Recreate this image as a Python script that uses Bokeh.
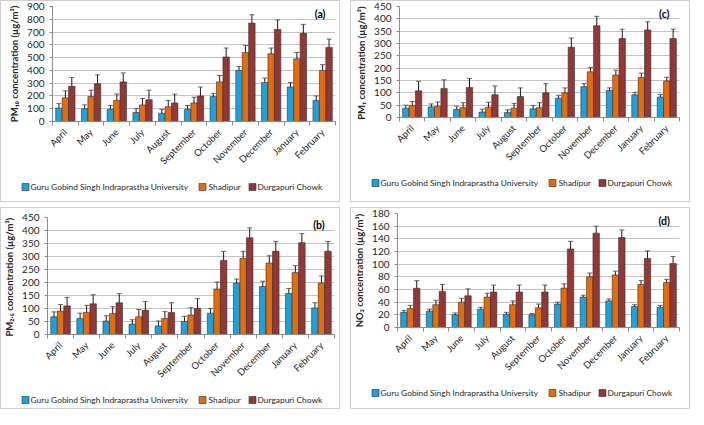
import numpy as np
from bokeh.plotting import figure
from bokeh.models import (ColumnDataSource, Range1d, FixedTicker, Whisker, TeeHead, Label)
from bokeh.core.properties import value
from bokeh.layouts import row, column
from bokeh.embed import file_html
from bokeh.resources import INLINE

months = ["April", "May", "June", "July", "August", "September", "October",
          "November", "December", "January", "February"]
sites = ["Guru Gobind Singh Indraprastha University", "Shadipur", "Durgapuri Chowk"]
colors = ["#1AA3DF", "#E46C0A", "#953735"]

# (a) PM10
pm10_ggsipu = [105, 100, 95, 70, 65, 95, 195, 400, 305, 270, 165]
pm10_shadipur = [185, 195, 165, 130, 115, 145, 310, 540, 530, 490, 400]
pm10_durgapuri = [275, 295, 310, 170, 145, 200, 505, 770, 720, 690, 580]
pm10_ggsipu_err = [35, 30, 30, 30, 30, 30, 25, 30, 35, 35, 35]
pm10_shadipur_err = [55, 50, 50, 50, 50, 45, 50, 55, 45, 50, 45]
pm10_durgapuri_err = [70, 70, 70, 75, 70, 70, 70, 65, 75, 70, 65]

# (c) PM1
pm1_ggsipu = [38, 43, 33, 22, 20, 35, 78, 125, 110, 92, 83]
pm1_shadipur = [48, 45, 40, 42, 38, 40, 100, 185, 172, 162, 148]
pm1_durgapuri = [108, 118, 122, 92, 85, 100, 285, 372, 320, 355, 320]
pm1_ggsipu_err = [12, 12, 13, 12, 11, 13, 12, 13, 10, 10, 10]
pm1_shadipur_err = [17, 18, 20, 20, 19, 20, 20, 18, 20, 18, 15]
pm1_durgapuri_err = [39, 35, 36, 36, 35, 37, 37, 38, 38, 33, 38]

# (b) PM2.5
pm25_ggsipu = [68, 62, 52, 40, 33, 50, 82, 198, 185, 158, 102]
pm25_shadipur = [90, 85, 80, 68, 62, 75, 175, 292, 275, 238, 198]
pm25_durgapuri = [110, 118, 122, 93, 85, 100, 285, 372, 320, 353, 320]
pm25_ggsipu_err = [19, 20, 20, 17, 19, 20, 18, 15, 20, 19, 20]
pm25_shadipur_err = [25, 27, 27, 28, 26, 28, 27, 28, 28, 27, 27]
pm25_durgapuri_err = [33, 35, 35, 34, 37, 38, 35, 38, 38, 35, 38]

# (d) NO2
no2_ggsipu = [24, 26, 20, 29, 21, 20, 37, 48, 42, 33, 32]
no2_shadipur = [30, 36, 40, 48, 36, 31, 62, 80, 83, 68, 71]
no2_durgapuri = [62, 57, 50, 56, 56, 56, 124, 149, 142, 109, 101]
no2_ggsipu_err = [3, 3, 3, 3, 3, 2, 3, 3, 3, 3, 3]
no2_shadipur_err = [5, 7, 6, 6, 6, 6, 7, 6, 6, 6, 5]
no2_durgapuri_err = [12, 11, 11, 11, 11, 11, 12, 11, 12, 12, 11]

FONT = "Lato"
TXT = "#262626"
PANEL_W = 338
PANEL_H = 200
# legend layout (pixel positions inside the legend strip)
LEG_SWATCH_X = [24, 201, 251]
LEG_TEXT_X = [29, 207, 256]


def no_align(fig):
    try:
        fig.frame_align = False
    except Exception:
        pass


def make_panel(letter, ylabel, series, errors, ymax, step, left, right, top, frame_bottom):
    chart_h = frame_bottom + 46
    p = figure(width=PANEL_W, height=chart_h, output_backend="svg", toolbar_location=None,
               x_range=Range1d(-0.5, len(months) - 0.5), y_range=Range1d(0, ymax),
               min_border_left=left, min_border_right=right, min_border_top=top,
               min_border_bottom=46)
    no_align(p)
    p.outline_line_color = None
    x = np.arange(len(months))
    offsets = [-0.25, 0.0, 0.25]
    for i in range(3):
        vals = [float(v) for v in series[i]]
        errs = [float(v) for v in errors[i]]
        src = ColumnDataSource(dict(x=[float(v) for v in x + offsets[i]], top=vals,
                                    upper=[a + b for a, b in zip(vals, errs)],
                                    lower=[a - b for a, b in zip(vals, errs)]))
        p.vbar(x="x", top="top", width=0.25, source=src,
               fill_color=colors[i], line_color="#303030", line_width=0.6)
        w = Whisker(source=src, base="x", upper="upper", lower="lower",
                    line_color="black", line_width=0.9,
                    upper_head=TeeHead(size=5, line_color="#555555", line_width=0.9),
                    lower_head=TeeHead(size=5, line_color="black", line_width=0.9))
        p.add_layout(w)

    p.xaxis.ticker = FixedTicker(ticks=list(range(len(months))),
                                 minor_ticks=[i - 0.5 for i in range(len(months) + 1)])
    p.xaxis.major_label_overrides = {i: m for i, m in enumerate(months)}
    p.xaxis.major_label_orientation = np.pi / 4
    p.xaxis.major_tick_line_color = None
    p.xaxis.minor_tick_out = 4
    p.xaxis.minor_tick_in = 0
    p.xaxis.minor_tick_line_color = "#8c8c8c"
    p.xaxis.axis_line_color = "#8c8c8c"
    p.xaxis.major_label_text_font = FONT
    p.xaxis.major_label_text_font_size = "9.5px"
    p.xaxis.major_label_text_color = TXT
    p.xaxis.major_label_standoff = 3

    p.yaxis.ticker = FixedTicker(ticks=[float(v) for v in range(0, ymax + 1, step)])
    p.yaxis.axis_line_color = "#8c8c8c"
    p.yaxis.major_tick_line_color = "#8c8c8c"
    p.yaxis.major_tick_out = 3
    p.yaxis.major_tick_in = 0
    p.yaxis.minor_tick_line_color = None
    p.yaxis.major_label_text_font = FONT
    p.yaxis.major_label_text_font_size = "10px"
    p.yaxis.major_label_text_color = TXT
    p.yaxis.axis_label = ylabel
    p.yaxis.axis_label_text_font = FONT
    p.yaxis.axis_label_text_font_size = "9.5px"
    p.yaxis.axis_label_text_font_style = "bold"
    p.yaxis.axis_label_text_color = TXT
    p.yaxis.axis_label_standoff = 4

    p.xgrid.visible = False
    p.ygrid.grid_line_color = "#c4c4c4"

    lab = Label(x=len(months) - 1.1, y=ymax * 0.935, text=letter,
                text_font=FONT, text_font_size="10.5px", text_font_style="bold",
                text_align="center", text_baseline="middle", text_color="black")
    p.add_layout(lab)

    # legend strip below the chart
    strip_h = PANEL_H - chart_h
    lp = figure(width=PANEL_W, height=strip_h, output_backend="svg",
                toolbar_location=None, x_range=Range1d(0, PANEL_W),
                y_range=Range1d(0, strip_h), min_border=0,
                x_axis_type=None, y_axis_type=None)
    no_align(lp)
    lp.outline_line_color = None
    lp.xgrid.visible = False
    lp.ygrid.visible = False
    ly = strip_h - 13.5
    lsrc = ColumnDataSource(dict(sx=LEG_SWATCH_X, tx=LEG_TEXT_X, y=[ly] * 3,
                                 color=colors, label=sites))
    lp.scatter(x="sx", y="y", marker="square", size=7, fill_color="color",
               line_color="#303030", line_width=0.6, source=lsrc)
    lp.text(x="tx", y="y", text="label", source=lsrc, text_font=value(FONT),
            text_font_size="8.4px", text_color=TXT, text_align="left",
            text_baseline="middle")
    return column(p, lp, spacing=0, styles={"border": "1px solid #d0d0d0"})


pa = make_panel("(a)", "PM₁₀ concentration (µg/m³)",
                [pm10_ggsipu, pm10_shadipur, pm10_durgapuri],
                [pm10_ggsipu_err, pm10_shadipur_err, pm10_durgapuri_err], 900, 100,
                51, 4, 5, 126)
pc = make_panel("(c)", "PM₁ concentration  (µg/m³)",
                [pm1_ggsipu, pm1_shadipur, pm1_durgapuri],
                [pm1_ggsipu_err, pm1_shadipur_err, pm1_durgapuri_err], 450, 50,
                48, 10, 5, 122)
pb = make_panel("(b)", "PM₂.₅ concentration  (µg/m³)",
                [pm25_ggsipu, pm25_shadipur, pm25_durgapuri],
                [pm25_ggsipu_err, pm25_shadipur_err, pm25_durgapuri_err], 450, 50,
                46, 5, 9, 132)
pd = make_panel("(d)", "NO₂ concentration (µg/m³)",
                [no2_ggsipu, no2_shadipur, no2_durgapuri],
                [no2_ggsipu_err, no2_shadipur_err, no2_durgapuri_err], 180, 20,
                45, 10, 5, 125)

layout = column(row(pa, pc, spacing=10), row(pb, pd, spacing=10), spacing=5)
open("out.html", "w").write(file_html(layout, INLINE))
